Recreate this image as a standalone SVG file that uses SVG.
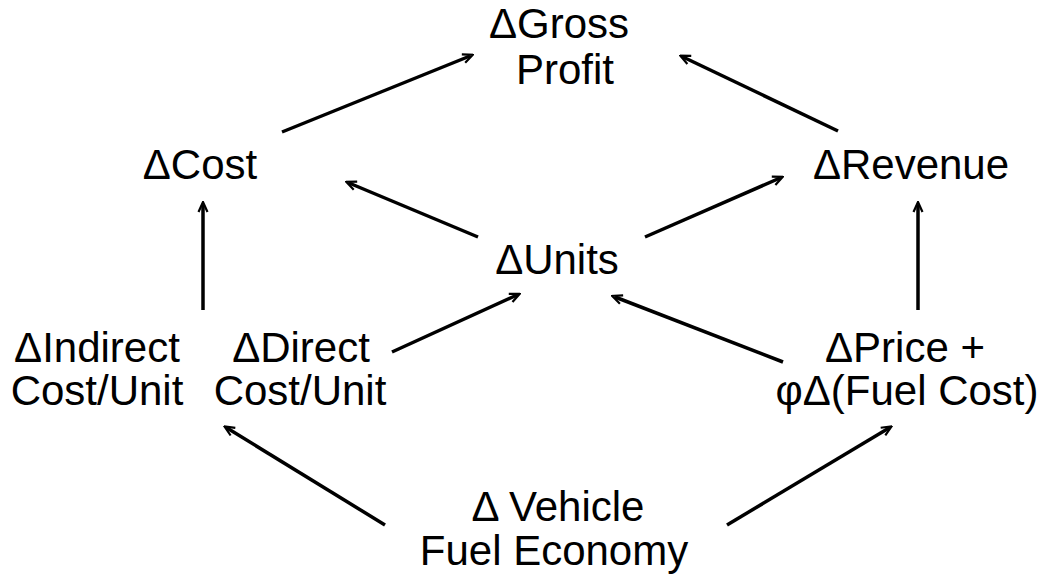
<svg xmlns="http://www.w3.org/2000/svg" width="1045" height="579" viewBox="0 0 1045 579">
  <style>
    .t { font-family: "Liberation Sans", Arial, sans-serif; font-size: 42px; fill: #000; text-anchor: middle; }
    .c { stroke: #000; stroke-width: 3.5; fill: none; marker-end: url(#ah); }
  </style>
  <defs>
    <marker id="ah" viewBox="0 0 12 12" refX="8" refY="6" markerWidth="12" markerHeight="12" markerUnits="userSpaceOnUse" orient="auto">
      <path d="M1,1.5 L11,6 L1,10.5" fill="none" stroke="#000" stroke-width="2.2"/>
    </marker>
  </defs>
  <rect width="1045" height="579" fill="#fff"/>
  <g id="connectors">
    <line class="c" x1="282" y1="132" x2="470" y2="56"/>
    <line class="c" x1="838" y1="131" x2="683" y2="57"/>
    <line class="c" x1="478" y1="237" x2="349" y2="183"/>
    <line class="c" x1="645" y1="237" x2="780" y2="178"/>
    <line class="c" x1="203" y1="310" x2="203" y2="205"/>
    <line class="c" x1="918" y1="310" x2="918" y2="205"/>
    <line class="c" x1="392" y1="352" x2="517" y2="295"/>
    <line class="c" x1="783" y1="362" x2="615" y2="297"/>
    <line class="c" x1="385" y1="525" x2="227" y2="428"/>
    <line class="c" x1="727" y1="525" x2="889" y2="428"/>
  </g>
  <g id="gross-profit"><text class="t" x="559" y="38">ΔGross</text><text class="t" x="565" y="84">Profit</text></g>
  <g id="cost"><text class="t" x="200" y="179">ΔCost</text></g>
  <g id="revenue"><text class="t" x="911" y="179">ΔRevenue</text></g>
  <g id="units"><text class="t" x="557" y="274">ΔUnits</text></g>
  <g id="indirect"><text class="t" x="97" y="362">ΔIndirect</text><text class="t" x="97" y="405">Cost/Unit</text></g>
  <g id="direct"><text class="t" x="301" y="362">ΔDirect</text><text class="t" x="300" y="405">Cost/Unit</text></g>
  <g id="price"><text class="t" x="905" y="362">ΔPrice +</text><text class="t" x="907" y="405">φΔ(Fuel Cost)</text></g>
  <g id="fuel-economy"><text class="t" x="558" y="521">Δ Vehicle</text><text class="t" x="554" y="565">Fuel Economy</text></g>
</svg>
